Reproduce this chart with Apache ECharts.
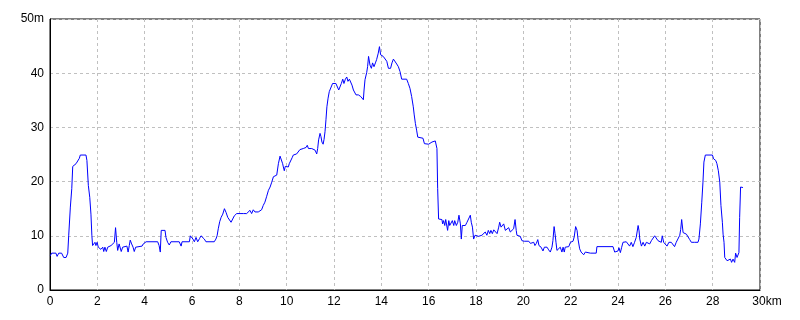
<!DOCTYPE html>
<html>
<head>
<meta charset="utf-8">
<script src="https://cdn.jsdelivr.net/npm/echarts@6/dist/echarts.min.js"></script>
<style>html,body{margin:0;padding:0;background:#fff;}#c{width:800px;height:320px;}</style>
</head>
<body>
<div id="c"></div>
<script>
// distance along route (km)
var distKm = [
0.01,0.07,0.25,0.30,0.37,0.44,0.49,0.58,0.68,0.75,0.79,0.86,0.92,0.96,1.03,1.10,1.17,1.24,1.28,1.52,
1.56,1.62,1.68,1.73,1.77,1.80,1.85,1.90,1.94,1.99,2.04,2.10,2.15,2.23,2.27,2.32,2.38,2.44,2.58,2.66,
2.72,2.77,2.82,2.86,2.92,2.97,3.01,3.07,3.14,3.25,3.30,3.35,3.39,3.45,3.51,3.56,3.62,3.70,3.89,3.94,
3.99,4.06,4.55,4.61,4.66,4.70,4.86,4.90,4.97,5.04,5.11,5.46,5.54,5.58,5.89,5.93,5.99,6.04,6.10,6.17,
6.24,6.32,6.38,6.46,6.52,6.59,6.94,7.01,7.06,7.11,7.17,7.23,7.30,7.37,7.44,7.51,7.58,7.65,7.72,7.79,
7.89,8.03,8.17,8.24,8.31,8.38,8.45,8.52,8.59,8.66,8.73,8.80,8.87,8.94,9.01,9.08,9.15,9.23,9.30,9.37,
9.44,9.51,9.58,9.65,9.72,9.79,9.83,9.86,9.90,9.94,10.00,10.07,10.11,10.17,10.23,10.28,10.42,10.49,10.56,10.70,
10.82,10.87,10.92,10.99,11.06,11.13,11.20,11.27,11.31,11.35,11.41,11.45,11.49,11.54,11.58,11.62,11.66,11.70,11.75,11.80,
11.86,11.94,12.08,12.14,12.20,12.25,12.31,12.37,12.42,12.48,12.54,12.59,12.65,12.70,12.76,12.82,12.87,12.93,13.03,13.13,
13.18,13.24,13.27,13.31,13.38,13.42,13.46,13.52,13.58,13.63,13.69,13.75,13.80,13.87,13.92,13.97,14.03,14.08,14.15,14.23,
14.30,14.39,14.45,14.51,14.58,14.65,14.72,14.79,14.86,15.07,15.14,15.21,15.28,15.35,15.39,15.44,15.49,15.54,15.76,15.82,
16.00,16.07,16.14,16.21,16.28,16.32,16.35,16.38,16.42,16.49,16.56,16.59,16.63,16.68,16.72,16.77,16.80,16.85,16.89,16.96,
17.00,17.06,17.10,17.17,17.23,17.28,17.34,17.38,17.42,17.55,17.62,17.66,17.70,17.76,17.80,17.85,17.90,17.96,18.04,18.11,
18.25,18.32,18.39,18.46,18.52,18.58,18.63,18.69,18.75,18.82,18.89,18.96,19.00,19.06,19.11,19.17,19.24,19.31,19.38,19.45,
19.52,19.59,19.65,19.70,19.73,19.87,19.94,19.99,20.04,20.23,20.30,20.37,20.44,20.49,20.55,20.61,20.66,20.75,20.83,20.89,
21.00,21.07,21.14,21.21,21.25,21.30,21.34,21.38,21.42,21.49,21.56,21.63,21.68,21.73,21.77,21.85,21.92,21.99,22.10,22.15,
22.21,22.27,22.31,22.38,22.44,22.55,22.62,22.83,23.08,23.11,23.79,23.86,23.93,24.00,24.04,24.10,24.15,24.21,24.28,24.35,
24.42,24.49,24.56,24.63,24.70,24.77,24.85,24.89,24.92,24.99,25.06,25.13,25.20,25.27,25.34,25.41,25.48,25.55,25.62,25.69,
25.76,25.83,25.87,25.93,26.01,26.07,26.15,26.25,26.32,26.39,26.46,26.54,26.61,26.65,26.69,26.75,26.82,26.89,26.96,27.03,
27.10,27.17,27.24,27.38,27.42,27.48,27.54,27.59,27.63,27.69,27.99,28.04,28.13,28.18,28.24,28.30,28.35,28.41,28.44,28.48,
28.51,28.55,28.61,28.65,28.69,28.75,28.80,28.86,28.93,28.97,29.03,29.07,29.11,29.14,29.18,29.28
];
// elevation (m)
var elevM = [
6.3,6.8,6.8,6.2,6.8,6.5,6.8,6.0,6.0,6.8,10.0,15.3,18.7,22.8,23.0,23.3,23.8,24.3,24.9,24.9,
23.9,19.3,17.1,14.0,10.0,8.2,8.5,8.8,8.2,8.8,7.9,8.2,7.5,7.9,7.1,7.9,7.1,7.9,8.2,8.2,
8.8,11.5,8.8,7.3,8.5,8.8,7.1,7.9,7.9,8.1,7.0,8.2,9.2,8.5,7.9,7.1,7.9,8.1,8.1,8.5,
8.8,8.9,8.9,8.2,7.0,11.0,11.0,9.7,8.8,8.3,8.9,8.9,8.1,8.9,8.9,10.0,10.0,9.4,8.9,9.7,
8.9,9.5,10.0,10.0,9.4,8.9,8.9,9.4,10.0,11.3,12.6,13.4,14.0,15.0,14.3,13.4,13.1,12.5,13.1,13.7,
14.1,14.1,14.1,14.4,14.1,14.4,14.7,14.1,14.8,14.4,14.7,14.4,14.4,14.8,15.6,16.2,17.2,18.4,19.0,19.9,
20.9,21.2,21.2,23.3,24.7,24.7,23.3,22.7,22.0,22.8,23.0,22.7,23.3,23.6,24.4,24.9,25.1,25.3,25.9,26.1,
26.3,26.7,26.1,26.3,26.1,26.1,25.8,25.1,26.1,27.7,28.9,28.3,27.3,26.9,27.8,29.2,31.4,33.8,35.4,36.6,
36.9,38.1,38.1,38.0,36.9,36.9,38.1,38.9,38.1,38.9,39.3,38.5,38.9,38.8,37.8,36.9,36.6,36.0,36.0,35.7,
35.8,35.1,36.9,38.8,40.1,41.2,43.1,41.5,40.9,41.9,41.2,41.9,42.5,43.7,44.9,43.4,43.1,43.1,42.8,42.2,
40.9,40.9,41.9,42.6,42.8,41.7,41.2,40.3,38.9,38.9,38.1,37.2,35.7,33.8,32.3,30.7,29.5,28.2,28.0,27.0,
26.9,27.2,27.3,27.0,27.5,27.8,26.1,18.7,13.1,12.8,13.0,12.2,12.8,11.9,13.0,13.1,11.0,12.8,11.9,11.9,
12.8,11.9,12.8,11.9,12.5,13.8,12.2,9.4,11.9,11.9,12.5,12.8,12.2,13.8,12.5,11.6,9.4,10.1,9.8,9.9,
10.1,10.1,10.7,10.1,11.0,10.4,11.0,10.4,11.1,11.0,10.4,11.6,12.5,11.6,11.9,12.2,11.0,11.3,11.5,10.7,
11.0,11.3,13.0,11.0,10.1,9.9,9.1,9.3,9.0,9.0,8.6,8.5,8.8,8.2,8.6,9.3,8.2,7.9,7.2,7.9,
7.9,7.4,7.0,7.9,9.1,11.7,10.4,8.8,7.3,7.0,7.9,7.0,7.9,7.0,7.9,7.9,8.0,8.8,9.0,9.8,
11.7,11.0,9.4,7.6,7.0,6.5,7.0,6.8,6.8,8.0,8.0,7.0,6.8,7.2,7.8,6.9,7.8,8.8,8.5,8.9,
8.6,8.1,8.8,8.0,8.8,9.7,11.9,10.9,9.4,8.1,8.8,8.1,8.8,8.5,8.5,9.1,9.1,10.0,10.0,9.1,
9.4,8.8,10.0,8.8,8.8,8.1,8.8,8.8,8.5,8.0,8.8,9.1,10.1,11.2,13.0,10.6,10.9,10.3,10.0,9.3,
8.8,9.1,8.8,8.8,9.4,12.2,16.2,19.9,23.6,24.9,24.9,24.2,23.9,23.3,22.0,19.9,15.6,12.5,10.3,8.8,
6.0,5.7,5.4,5.7,5.1,5.7,5.1,5.7,5.1,6.8,6.0,6.3,6.9,13.4,19.0,18.9
];
var xTicks = [0,2,4,6,8,10,12,14,16,18,20,22,24,26,28,30];
var yTicks = [0,10,20,30,40,50];
var xUnit = 'km', yUnit = 'm';

var pts = distKm.map(function(d,i){ return [d, elevM[i]]; });
var chart = echarts.init(document.getElementById('c'), null, {renderer:'canvas'});
var fontFam = '"Liberation Sans", Arial, sans-serif';
chart.setOption({
  animation:false,
  backgroundColor:'#ffffff',
  grid:{left:50,right:40,top:19,bottom:30,show:true,borderColor:'#000',borderWidth:1,backgroundColor:'transparent'},
  xAxis:{type:'value',min:xTicks[0],max:xTicks[xTicks.length-1],interval:2,
    axisLine:{show:true,lineStyle:{color:'#000',width:1}},
    axisTick:{show:false},
    splitLine:{show:true,lineStyle:{color:'#c0c0c0',type:[3,3],width:1}},
    axisLabel:{color:'#000',fontFamily:fontFam,fontSize:12,margin:6,
      formatter:function(v){ return v===xTicks[xTicks.length-1] ? '{p|}{a|'+v+'}{b|'+xUnit+'}' : String(v); },
      rich:{p:{width:14},a:{fontFamily:fontFam,fontSize:12,color:'#000'},b:{fontFamily:fontFam,fontSize:12,color:'#000'}}
    }
  },
  yAxis:{type:'value',min:yTicks[0],max:yTicks[yTicks.length-1],interval:10,
    axisLine:{show:true,lineStyle:{color:'#000',width:1}},
    axisTick:{show:false},
    splitLine:{show:true,lineStyle:{color:'#c0c0c0',type:[3,3],width:1}},
    axisLabel:{color:'#000',fontFamily:fontFam,fontSize:12,margin:6,
      formatter:function(v){ return v===yTicks[yTicks.length-1] ? v+yUnit : String(v); }
    }
  },
  series:[{type:'line',data:pts,showSymbol:false,symbol:'none',
    lineStyle:{color:'#0000ff',width:1},itemStyle:{color:'#0000ff'}}]
});
</script>
</body>
</html>
